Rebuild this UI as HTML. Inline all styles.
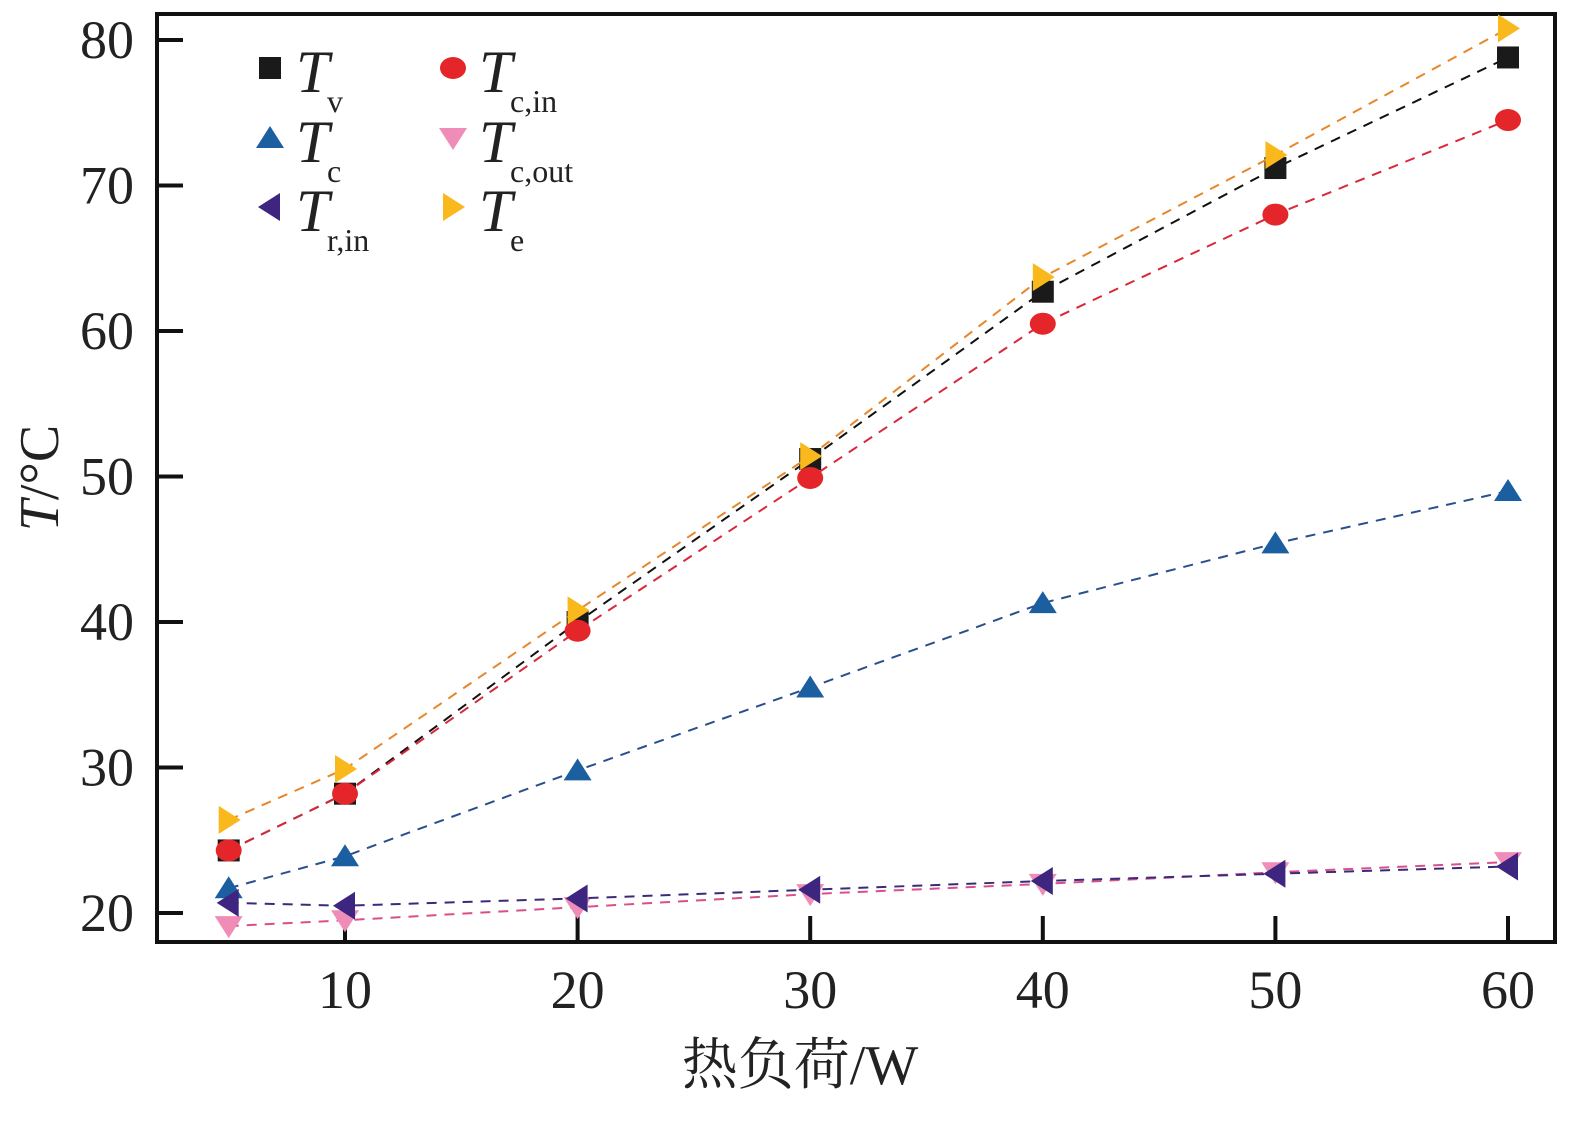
<!DOCTYPE html>
<html><head><meta charset="utf-8"><style>
html,body{margin:0;padding:0;background:#fff}
svg text{font-family:"Liberation Serif","Noto Serif CJK SC",serif}
</style></head><body>
<svg id="chart" width="1585" height="1116" xmlns="http://www.w3.org/2000/svg">
<rect x="157" y="14" width="1398" height="928" fill="none" stroke="#111" stroke-width="4"/>
<g id="ticks"></g>
<g id="series"></g>
<text transform="translate(58,478) rotate(-90)" text-anchor="middle" font-size="56" fill="#222"><tspan font-style="italic">T</tspan>/°C</text>
<text x="800" y="1084" text-anchor="middle" font-size="56" fill="#222">热负荷/W</text>
<g id="legend"></g>
</svg>
<script>
const xValues=[5,10,20,30,40,50,60];
const xTicks=[10,20,30,40,50,60];
const yTicks=[20,30,40,50,60,70,80];
const Tv=[24.3,28.2,40.0,51.2,62.7,71.2,78.8];
const Tcin=[24.3,28.2,39.4,49.9,60.5,68.0,74.5];
const Tc=[21.7,23.9,29.8,35.5,41.3,45.4,49.0];
const Tcout=[19.1,19.5,20.4,21.3,22.0,22.8,23.5];
const Trin=[20.7,20.5,21.0,21.6,22.2,22.7,23.2];
const Te=[26.4,29.9,40.8,51.4,63.7,72.1,80.8];

const NS="http://www.w3.org/2000/svg";
function X(v){return 345+(v-10)*23.26;}
function Y(v){return 913-(v-20)*14.55;}
function mk(tag,attrs,parent){const e=document.createElementNS(NS,tag);for(const k in attrs)e.setAttribute(k,attrs[k]);parent.appendChild(e);return e;}
const ticks=document.getElementById('ticks');
yTicks.forEach(v=>{
  const l=mk('line',{x1:157,x2:183,y1:Y(v),y2:Y(v),stroke:'#111','stroke-width':4},ticks);
  
  
  const t=mk('text',{x:134,y:Y(v)+18,'text-anchor':'end','font-size':54,fill:'#222'},ticks);
  
  
  t.textContent=v;
});
xTicks.forEach(v=>{
  const l=mk('line',{x1:X(v),x2:X(v),y1:942,y2:916,stroke:'#111','stroke-width':4},ticks);
  
  
  const t=mk('text',{x:X(v),y:1008,'text-anchor':'middle','font-size':54,fill:'#222'},ticks);
  
  
  t.textContent=v;
});
function marker(shape,cx,cy,fill,p){
  const s=12;let e;
  if(shape==='square')e=mk('rect',{x:cx-11,y:cy-11,width:22,height:22,fill:fill},p);
  else if(shape==='circle')e=mk('ellipse',{cx:cx,cy:cy,rx:13,ry:11,fill:fill},p);
  else{let pts;
    if(shape==='up')pts=[[cx,cy-s],[cx-s-2,cy+s-2],[cx+s+2,cy+s-2]];
    if(shape==='down')pts=[[cx,cy+s],[cx-s-2,cy-s+2],[cx+s+2,cy-s+2]];
    if(shape==='left')pts=[[cx-s,cy],[cx+s-2,cy-s-2],[cx+s-2,cy+s+2]];
    if(shape==='right')pts=[[cx+s,cy],[cx-s+2,cy-s-2],[cx-s+2,cy+s+2]];
    e=mk('polygon',{points:pts.map(q=>q.join(',')).join(' '),fill:fill},p);}
  return e;
}
const series=[
 {name:'tv',data:Tv,line:'#111',fill:'#1a1a1a',shape:'square'},
 {name:'tc',data:Tc,line:'#2a4f8f',fill:'#1b5fa0',shape:'up'},
 {name:'tcout',data:Tcout,line:'#d8508a',fill:'#f08cb8',shape:'down'},
 {name:'trin',data:Trin,line:'#3a2a7a',fill:'#3d2580',shape:'left'},
 {name:'tcin',data:Tcin,line:'#d8283c',fill:'#e4262b',shape:'circle'},
 {name:'te',data:Te,line:'#e8862a',fill:'#f9b81c',shape:'right'}
];
const sg=document.getElementById('series');
series.forEach(s=>{
  const g=mk('g',{},sg);
  
  
  const pl=mk('polyline',{points:xValues.map((x,i)=>X(x)+','+Y(s.data[i])).join(' '),fill:'none',stroke:s.line,'stroke-width':2,'stroke-dasharray':'10,8'},g);
  
  
  xValues.forEach((x,i)=>{
    const m=marker(s.shape,X(x),Y(s.data[i]),s.fill,g);
    
    
  });
});
const legendItems=[
 {shape:'square',fill:'#1a1a1a',sub:'v',x:270,y:68},
 {shape:'up',fill:'#1b5fa0',sub:'c',x:270,y:138},
 {shape:'left',fill:'#3d2580',sub:'r,in',x:270,y:207},
 {shape:'circle',fill:'#e4262b',sub:'c,in',x:453,y:68},
 {shape:'down',fill:'#f08cb8',sub:'c,out',x:453,y:138},
 {shape:'right',fill:'#f9b81c',sub:'e',x:453,y:207}
];
const lg=document.getElementById('legend');
legendItems.forEach(it=>{
  const g=mk('g',{},lg);
  
  
  marker(it.shape,it.x,it.y,it.fill,g);
  const t=mk('text',{x:it.x+26,y:it.y+24,'font-size':60,'font-style':'italic',fill:'#222'},g);
  t.textContent='T';
  const s=mk('text',{x:it.x+57,y:it.y+44,'font-size':32,fill:'#222'},g);
  s.textContent=it.sub;
});
</script>
</body></html>
